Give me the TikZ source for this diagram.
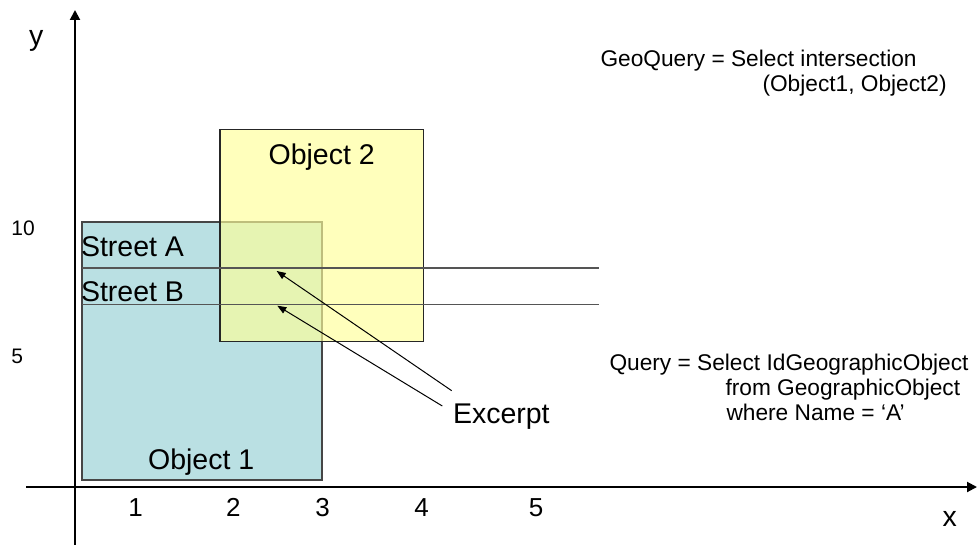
\documentclass[tikz,border=0pt]{standalone}
\usepackage{fontspec}
\setmainfont{Liberation Sans}
\usetikzlibrary{arrows.meta}
\definecolor{objone}{RGB}{186,224,227}
\definecolor{objtwo}{RGB}{255,255,153}
\definecolor{edgegray}{RGB}{70,70,70}
\definecolor{streetgray}{RGB}{85,85,85}
\tikzset{
  lbl/.style={inner sep=0pt, outer sep=0pt, text=black},
  big/.style={lbl, font=\fontsize{28.5}{30}\selectfont},
  query/.style={lbl, font=\fontsize{22.7}{25}\selectfont, anchor=base west},
  tick/.style={lbl, font=\fontsize{26}{28}\selectfont, anchor=base},
  ytick/.style={lbl, font=\fontsize{21}{23}\selectfont, anchor=base west},
  axis/.style={line width=2pt, black, -{Triangle[length=10pt,width=10pt]}},
  street/.style={line width=1.3pt, streetgray},
  pointer/.style={line width=1pt, black, -{Triangle[length=9pt,width=7pt]}}
}
\begin{document}
\begin{tikzpicture}[x=1pt,y=-1pt]
\useasboundingbox[fill=white] (0,0) rectangle (979,545);
% axis end points
\coordinate (xstart) at (26,487);
\coordinate (xend) at (977,487);
\coordinate (ystart) at (75,545);
\coordinate (yend) at (75,10);
% objects
\coordinate (o1a) at (82,222);
\coordinate (o1b) at (322,480);
\coordinate (o2a) at (220,129.5);
\coordinate (o2b) at (423.5,341.5);
\fill[objone] (o1a) rectangle (o1b);
\draw[edgegray, line width=1.2pt] (o1a) rectangle (o1b);
\fill[objtwo, fill opacity=0.65] (o2a) rectangle (o2b);
\draw[black!85, line width=1.2pt] (o2a) rectangle (o2b);
% streets
\coordinate (sa1) at (82,268);
\coordinate (sa2) at (599,268);
\coordinate (sb1) at (82,304.5);
\coordinate (sb2) at (599,304.5);
\draw[street] (sa1) -- (sa2);
\draw[street] (sb1) -- (sb2);
% axes
\draw[axis] (xstart) -- (xend);
\draw[axis] (ystart) -- (yend);
% labels
\node[big, anchor=base west] (ylbl) at (29,46) {y};
\node[big, anchor=base west] (xlbl) at (942.5,526) {x};
\node[ytick] (t10) at (11.5,236) {10};
\node[ytick] (t5) at (11.5,363) {5};
\node[tick] (x1) at (135.7,516) {1};
\node[tick] (x2) at (233.3,516) {2};
\node[tick] (x3) at (322.7,516) {3};
\node[tick] (x4) at (421.5,516) {4};
\node[tick] (x5) at (536,516) {5};
\node[big, anchor=base] (obj2) at (321.7,165) {Object 2};
\node[big, anchor=base] (obj1) at (201.2,469.3) {Object 1};
\node[big, anchor=base west] (sta) at (81,256.7) {Street A};
\node[big, anchor=base west] (stb) at (81,301.7) {Street B};
\node[big, anchor=base west] (exc) at (453,423) {Excerpt};
% pointers
\coordinate (pa) at (276.7,271);
\coordinate (pb) at (277.3,305.7);
\coordinate (ta) at (451.7,390.7);
\coordinate (tb) at (442.3,406);
\draw[pointer] (ta) -- (pa);
\draw[pointer] (tb) -- (pb);
% queries
\node[query] (g1) at (600.5,67) {GeoQuery = Select intersection};
\node[query] (g2) at (762.5,92) {(Object1, Object2)};
\node[query] (q1) at (609.5,370) {Query = Select IdGeographicObject};
\node[query] (q2) at (725.5,395) {from GeographicObject};
\node[query] (q3) at (726.5,420) {where Name = ‘A’};
\end{tikzpicture}
\end{document}
